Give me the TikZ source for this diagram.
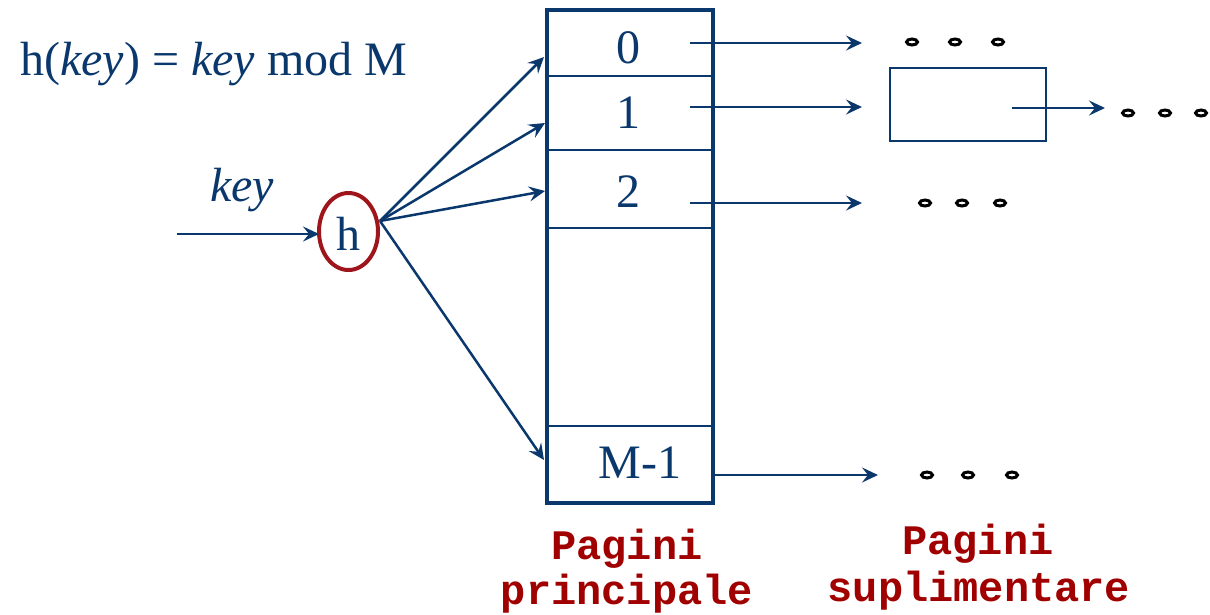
\documentclass[tikz,border=0pt]{standalone}
\usepackage{fontspec}
\setmainfont{Liberation Serif}
\newfontfamily\monob{Liberation Mono}
\usetikzlibrary{arrows.meta,shapes.geometric}
\definecolor{navy}{RGB}{10,56,108}
\definecolor{hred}{RGB}{158,22,28}
\definecolor{lred}{RGB}{160,0,0}
\begin{document}
\begin{tikzpicture}[x=1pt,y=-1pt,
  arr/.style={draw=navy, line width=2.5pt, -{Stealth[length=16pt,width=15pt,inset=6pt]}},
  txt/.style={text=navy, font=\fontsize{48}{50}\selectfont, inner sep=0pt},
  lbl/.style={text=lred, font=\monob\bfseries\fontsize{42}{47}\selectfont, inner sep=0pt},
  dotn/.style={ellipse, draw=black, fill=white, line width=3pt, minimum width=11pt, minimum height=6pt, inner sep=0pt},
  cellline/.style={draw=navy, line width=2.6pt}]
\useasboundingbox (0,0) rectangle (1210,614);
% formula
\node[txt, anchor=base west] (formula) at (20,75) {h(\textit{key}) = \textit{key} mod M};
% key input
\node[txt, anchor=base] (keylbl) at (242,201) {\textit{key}};
\node[ellipse, draw=hred, line width=4pt, minimum width=59pt, minimum height=77pt, inner sep=0pt] (h) at (348.5,231.5) {};
\node[txt, anchor=base] (hl) at (348,250) {h};
\coordinate (kin) at (177,234);
\coordinate (kend) at (319,234);
\draw[arr] (kin) -- (kend);
% table
\node[draw=navy, line width=3.8pt, minimum width=166pt, minimum height=493pt, inner sep=0pt] (table) at (630,256.5) {};
\draw[cellline] (table.west |- 0,76) -- (table.east |- 0,76);
\draw[cellline] (table.west |- 0,150) -- (table.east |- 0,150);
\draw[cellline] (table.west |- 0,228) -- (table.east |- 0,228);
\draw[cellline] (table.west |- 0,426) -- (table.east |- 0,426);
\node[txt] (c0) at (628,48) {0};
\node[txt] (c1) at (628,113) {1};
\node[txt] (c2) at (628,192) {2};
\node[txt] (cM) at (640,463) {M-1};
% arrows from h
\coordinate (hs) at (380,221);
\coordinate (t0) at (544,57);
\coordinate (t1) at (545,123);
\coordinate (t2) at (545,191);
\coordinate (tM) at (544,460);
\draw[arr] (hs) -- (t0);
\draw[arr] (hs) -- (t1);
\draw[arr] (hs) -- (t2);
\draw[arr] (hs) -- (tM);
% chains
\coordinate (s0) at (690,43); \coordinate (e0) at (862,43);
\coordinate (s1) at (690,107); \coordinate (e1) at (862,107);
\coordinate (s2) at (690,203); \coordinate (e2) at (862,203);
\coordinate (sM) at (715,475); \coordinate (eM) at (878,475);
\draw[arr] (s0) -- (e0);
\draw[arr] (s1) -- (e1);
\draw[arr] (s2) -- (e2);
\draw[arr] (sM) -- (eM);
\node[draw=navy, line width=2.6pt, minimum width=156pt, minimum height=73pt, inner sep=0pt] (box) at (968,104.5) {};
\coordinate (bs) at (1012,108); \coordinate (be) at (1105,108);
\draw[arr] (bs) -- (be);
% dots
\node[dotn] (d01) at (912,42) {}; \node[dotn] (d02) at (955,42) {}; \node[dotn] (d03) at (998,42) {};
\node[dotn] (d11) at (1128,113) {}; \node[dotn] (d12) at (1165,113) {}; \node[dotn] (d13) at (1201,113) {};
\node[dotn] (d21) at (925,203) {}; \node[dotn] (d22) at (962,203) {}; \node[dotn] (d23) at (1000,203) {};
\node[dotn] (dM1) at (927,475) {}; \node[dotn] (dM2) at (968,475) {}; \node[dotn] (dM3) at (1012,475) {};
% labels
\node[lbl, anchor=base] (la1) at (627,559) {Pagini};
\node[lbl, anchor=base] (la2) at (627,604) {principale};
\node[lbl, anchor=base] (lb1) at (978,554) {Pagini};
\node[lbl, anchor=base] (lb2) at (979,601) {suplimentare};
\end{tikzpicture}
\end{document}
